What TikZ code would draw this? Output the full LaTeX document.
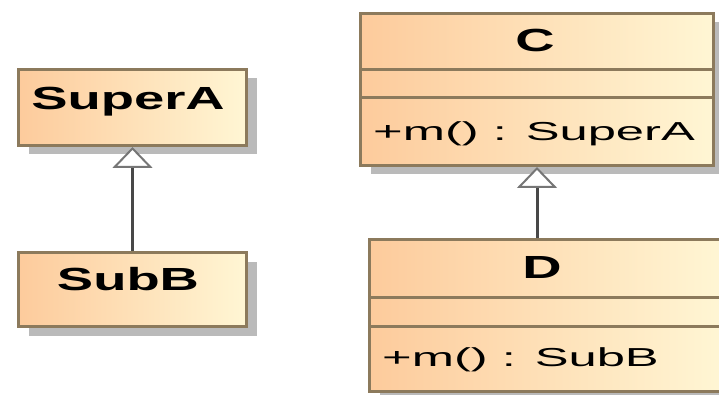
\documentclass[tikz,border=0pt]{standalone}
\usepackage{fontspec}
\setmainfont{Liberation Sans}
\usetikzlibrary{arrows.meta,shadows}

\definecolor{clsborder}{RGB}{140,122,92}
\definecolor{clspeach}{RGB}{253,203,156}
\definecolor{clscream}{RGB}{255,246,212}
\definecolor{clsshadow}{RGB}{186,186,186}
\definecolor{linkgrey}{RGB}{72,72,72}
\definecolor{tipgrey}{RGB}{118,118,118}

% the class names and operations are set wide
\newcommand{\clsname}[1]{\scalebox{1.7}[1]{\bfseries #1}}
\newcommand{\clsop}[1]{\scalebox{1.95}[1]{#1}}

\begin{document}
\begin{tikzpicture}[x=1pt, y=-1pt,
    cls/.style={draw=clsborder, line width=3pt, left color=clspeach, right color=clscream,
      general shadow={fill=clsshadow, shadow xshift=10pt, shadow yshift=-9pt}, inner sep=0pt},
    sep/.style={draw=clsborder, line width=3pt},
    namelabel/.style={inner sep=0pt, anchor=base, font=\fontsize{32}{36}\selectfont},
    oplabel/.style={inner sep=0pt, anchor=base west, font=\fontsize{26}{30}\selectfont},
    gen/.style={draw=linkgrey, line width=3pt,
      -{Triangle[fill=white, color=tipgrey, line width=2pt, length=21pt, width=40pt]}}]
    \useasboundingbox (0,0) rectangle (719,395);

    % left pair
    \node[cls, minimum width=228pt, minimum height=76pt] (superA) at (132.5,107.5) {};
    \node[cls, minimum width=228pt, minimum height=74pt] (subB) at (132.5,289.5) {};
    \node[namelabel] (superA-name) at (128,110) {\clsname{SuperA}};
    \node[namelabel] (subB-name) at (128,290) {\clsname{SubB}};

    % right pair
    \node[cls, minimum width=353pt, minimum height=152pt] (c) at (537,89.5) {};
    \node[cls, minimum width=353pt, minimum height=152pt] (d) at (546,315.5) {};
    \draw[sep] (c.west |- 0,70) -- (c.east |- 0,70);
    \draw[sep] (c.west |- 0,98) -- (c.east |- 0,98);
    \draw[sep] (d.west |- 0,297) -- (d.east |- 0,297);
    \draw[sep] (d.west |- 0,326) -- (d.east |- 0,326);
    \node[namelabel] (c-name) at (535,52) {\clsname{C}};
    \node[oplabel] (c-op) at (373,141) {\clsop{+m() : SuperA}};
    \node[namelabel] (d-name) at (542,278) {\clsname{D}};
    \node[oplabel] (d-op) at (382,366) {\clsop{+m() : SubB}};

    % generalizations
    \draw[gen] (subB) -- (superA);
    \draw[gen] (c.south |- d.north) -- (c.south);
\end{tikzpicture}
\end{document}
